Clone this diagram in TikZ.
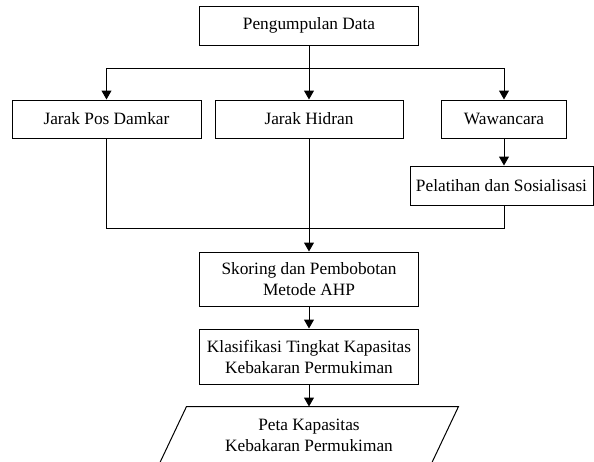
\documentclass[tikz,border=0pt]{standalone}
\usepackage{fontspec}
\setmainfont{Liberation Serif}
\usetikzlibrary{arrows.meta}

\begin{document}
\begin{tikzpicture}[x=1pt,y=-1pt,
            box/.style={draw,line width=1pt,inner sep=0pt,align=center,font=\fontsize{17.3}{21}\selectfont},
            arrow/.style={line width=1pt,-{Triangle[width=10pt,length=9pt]}},
            line/.style={line width=1pt}]
            \useasboundingbox (0,0) rectangle (594,461);
            \node (data) at (309,25.5) [box,minimum width=219pt,minimum height=39pt] {Pengumpulan Data};
            \node (pos) at (106.5,119) [box,minimum width=189pt,minimum height=38pt] {Jarak Pos Damkar};
            \node (hidran) at (309,119) [box,minimum width=188pt,minimum height=38pt] {Jarak Hidran};
            \node (wawan) at (504,119) [box,minimum width=125pt,minimum height=38pt] {Wawancara};
            \node (latih) at (501.5,185.5) [box,minimum width=183pt,minimum height=39pt] {Pelatihan dan Sosialisasi};
            \node (skor) at (309,279) [box,minimum width=219pt,minimum height=54pt] {Skoring dan Pembobotan\\Metode AHP};
            \node (klas) at (309,356.5) [box,minimum width=219pt,minimum height=55pt] {Klasifikasi Tingkat Kapasitas\\Kebakaran Permukiman};
            \node (peta) at (309,435) [box,draw=none,minimum width=244pt,minimum height=56pt] {Peta Kapasitas\\Kebakaran Permukiman};
            \draw[line] (peta.north west) -- ([xshift=27pt]peta.north east) -- (peta.south east) -- ([xshift=-27pt]peta.south west) -- cycle;

            \coordinate (split) at (309,68);
            \coordinate (merge) at (309,228);
            \draw[line] (data.south) -- (split);
            \draw[arrow] (split) -| (pos.north);
            \draw[arrow] (split) -- (hidran.north);
            \draw[arrow] (split) -| (wawan.north);
            \draw[arrow] (wawan.south) -- (wawan.south |- latih.north);
            \draw[line] (pos.south) |- (merge);
            \draw[line] (wawan.south |- latih.south) |- (merge);
            \draw[arrow] (hidran.south) -- (skor.north);
            \draw[arrow] (skor.south) -- (klas.north);
            \draw[arrow] (klas.south) -- (klas.south |- peta.north);
        \end{tikzpicture}
\end{document}
